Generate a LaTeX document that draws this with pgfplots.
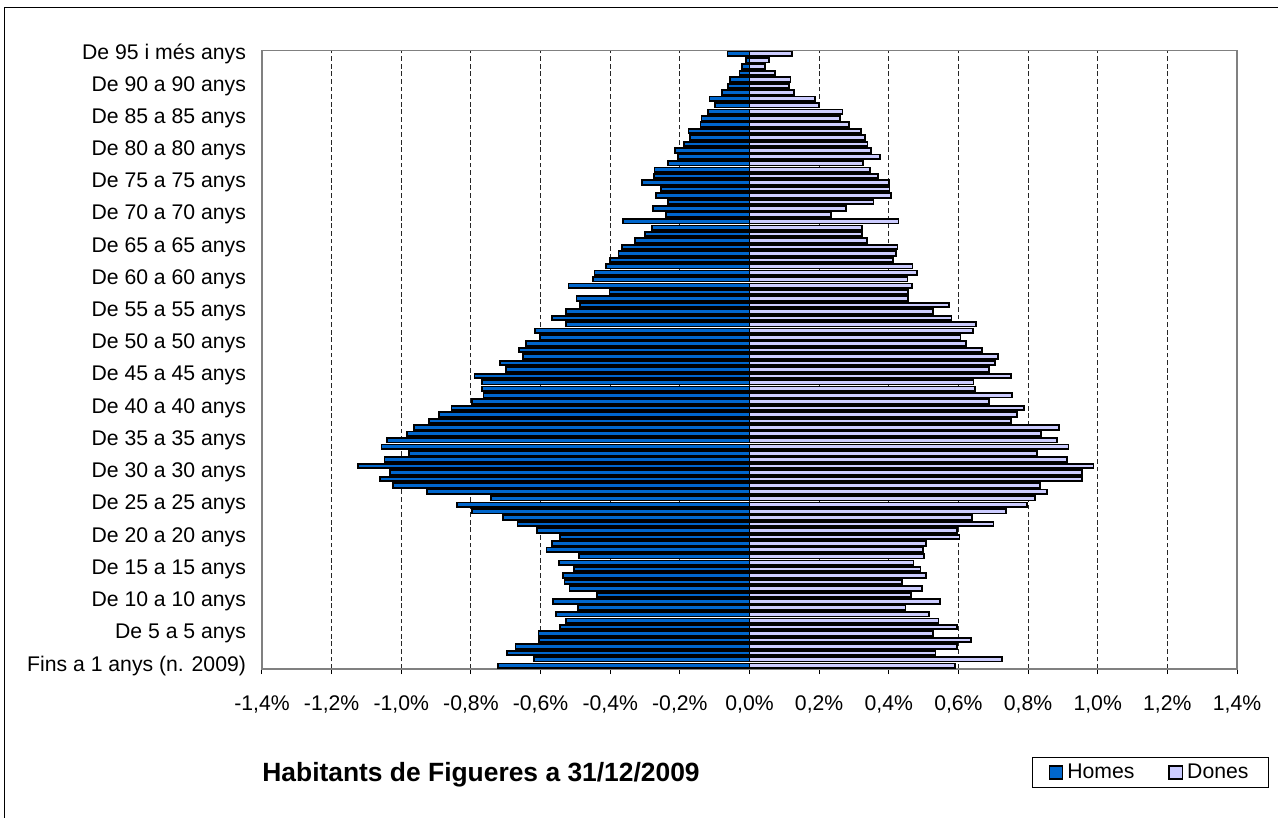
\documentclass[border=0pt]{standalone}
\usepackage{fontspec}
\setmainfont{Liberation Sans}
\usepackage{pgfplots}
\pgfplotsset{compat=1.18}
\usepackage{pgfplotstable}
\definecolor{homes}{HTML}{0066CC}
\definecolor{dones}{HTML}{CCCCFF}

% percentatge de la poblacio per edat
\pgfplotstableread{
edat homes dones
0 -0.722 0.591
1 -0.618 0.724
2 -0.697 0.534
3 -0.672 0.595
4 -0.605 0.637
5 -0.606 0.526
6 -0.544 0.596
7 -0.526 0.543
8 -0.555 0.516
9 -0.493 0.448
10 -0.565 0.546
11 -0.438 0.464
12 -0.517 0.496
13 -0.531 0.437
14 -0.536 0.506
15 -0.505 0.491
16 -0.548 0.471
17 -0.490 0.502
18 -0.583 0.498
19 -0.567 0.507
20 -0.545 0.603
21 -0.611 0.595
22 -0.666 0.701
23 -0.708 0.638
24 -0.796 0.736
25 -0.840 0.798
26 -0.742 0.821
27 -0.927 0.855
28 -1.023 0.834
29 -1.060 0.955
30 -1.033 0.955
31 -1.125 0.988
32 -1.048 0.911
33 -0.978 0.826
34 -1.057 0.916
35 -1.041 0.883
36 -0.983 0.837
37 -0.963 0.888
38 -0.920 0.752
39 -0.891 0.769
40 -0.856 0.789
41 -0.796 0.687
42 -0.764 0.753
43 -0.768 0.647
44 -0.768 0.643
45 -0.790 0.751
46 -0.699 0.687
47 -0.717 0.705
48 -0.651 0.714
49 -0.662 0.668
50 -0.641 0.622
51 -0.601 0.606
52 -0.615 0.641
53 -0.526 0.651
54 -0.567 0.580
55 -0.528 0.527
56 -0.486 0.574
57 -0.497 0.455
58 -0.402 0.455
59 -0.520 0.467
60 -0.449 0.454
61 -0.445 0.481
62 -0.413 0.468
63 -0.400 0.411
64 -0.376 0.420
65 -0.367 0.425
66 -0.329 0.337
67 -0.301 0.322
68 -0.279 0.324
69 -0.363 0.428
70 -0.239 0.235
71 -0.277 0.278
72 -0.233 0.356
73 -0.269 0.407
74 -0.254 0.402
75 -0.309 0.401
76 -0.275 0.369
77 -0.273 0.347
78 -0.233 0.326
79 -0.206 0.374
80 -0.214 0.350
81 -0.188 0.339
82 -0.171 0.332
83 -0.175 0.320
84 -0.141 0.286
85 -0.138 0.261
86 -0.120 0.267
87 -0.100 0.200
88 -0.115 0.189
89 -0.078 0.128
90 -0.061 0.113
91 -0.055 0.118
92 -0.029 0.073
93 -0.021 0.044
94 -0.011 0.055
95 -0.063 0.122
}\piramide

\begin{document}
\begin{tikzpicture}[font=\fontsize{10.6bp}{12.7bp}\selectfont]
\begin{axis}[
    scale only axis, width=487.5bp, height=309.25bp,
    clip=false,
    xbar, bar width=0.70, bar shift=0pt,
    xmin=-1.4, xmax=1.4, ymin=-0.5, ymax=95.5,
    xtick={-1.4,-1.2,-1.0,-0.8,-0.6,-0.4,-0.2,0,0.2,0.4,0.6,0.8,1.0,1.2,1.4},
    xticklabels={{-1,4\%},{-1,2\%},{-1,0\%},{-0,8\%},{-0,6\%},{-0,4\%},{-0,2\%},{0,0\%},{0,2\%},{0,4\%},{0,6\%},{0,8\%},{1,0\%},{1,2\%},{1,4\%}},
    ytick={0,5,...,95},
    yticklabels={{Fins a 1 anys (n. 2009)},{De 5 a 5 anys},{De 10 a 10 anys},{De 15 a 15 anys},{De 20 a 20 anys},{De 25 a 25 anys},{De 30 a 30 anys},{De 35 a 35 anys},{De 40 a 40 anys},{De 45 a 45 anys},{De 50 a 50 anys},{De 55 a 55 anys},{De 60 a 60 anys},{De 65 a 65 anys},{De 70 a 70 anys},{De 75 a 75 anys},{De 80 a 80 anys},{De 85 a 85 anys},{De 90 a 90 anys},{De 95 i més anys}},
    xtick pos=bottom, tick align=outside,
    major tick length=2.5bp,
    xtick style={black, line width=0.5bp},
    ytick style={draw=none},
    xticklabel style={yshift=-7.5bp},
    yticklabel style={xshift=-2bp},
    xmajorgrids,
    grid style={black!85, line width=0.5bp, dash pattern=on 2.4bp off 1.4bp},
    axis line style={gray, line width=0.8bp},
    legend columns=2,
    legend style={at={(1.0328,-0.1673)}, anchor=east, draw=black, line width=0.5bp,
        inner xsep=8bp, inner ysep=1bp,
        /tikz/every even column/.append style={column sep=15bp}},
    legend image code/.code={\draw[#1, line width=0.8bp] (0bp,-3.3bp) rectangle (6.6bp,3.3bp);},
]
\addplot[fill=homes, draw=black, line width=0.9bp] table[x=homes, y=edat] {\piramide};
\addlegendentry{Homes}
\addplot[fill=dones, draw=black, line width=0.9bp] table[x=dones, y=edat] {\piramide};
\addlegendentry{Dones}
\node[anchor=west, inner sep=0pt, font=\bfseries\fontsize{13.2bp}{15bp}\selectfont]
    at (rel axis cs:0,-0.1714) {Habitants de Figueres a 31/12/2009};
\end{axis}
\draw[black, line width=0.5bp] (-128.5bp,-90bp) -- (-128.5bp,330.5bp) -- (520bp,330.5bp);
\pgfresetboundingbox
\useasboundingbox (-131bp,-74.5bp) rectangle (508bp,334.5bp);
\end{tikzpicture}
\end{document}
